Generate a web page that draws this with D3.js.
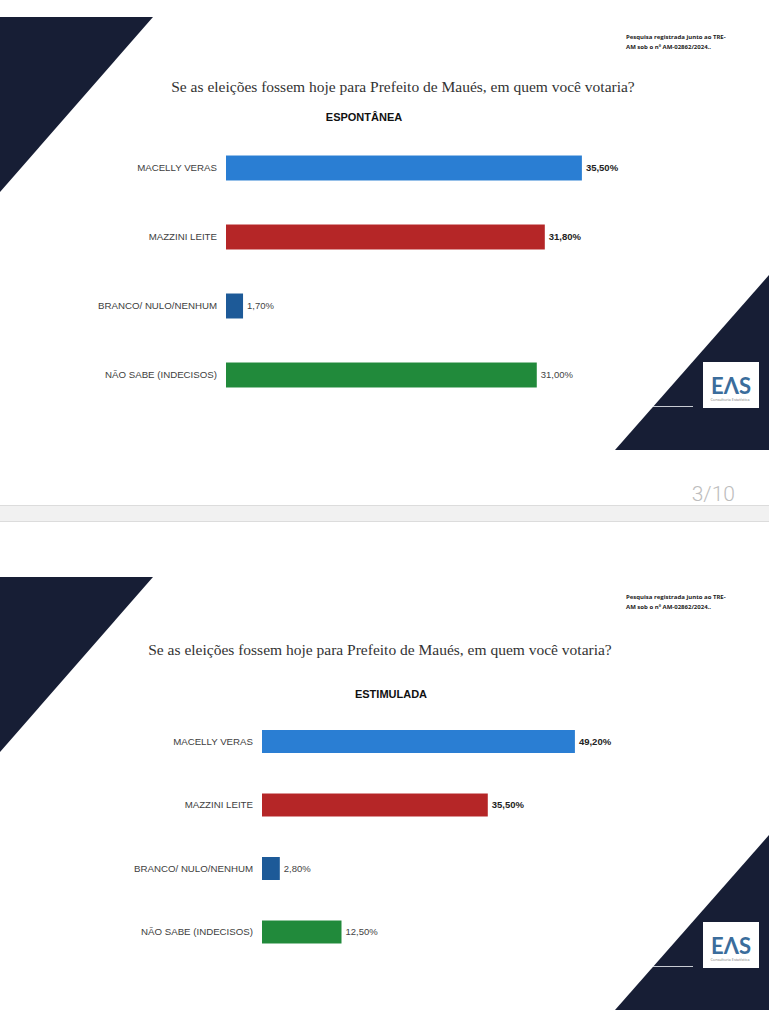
<!DOCTYPE html>
<html>
<head>
<meta charset="utf-8">
<script src="https://cdn.jsdelivr.net/npm/d3@7"></script>
<style>
  html, body { margin: 0; padding: 0; background: #fff; }
  svg { display: block; }
</style>
</head>
<body>
<svg id="chart" width="769" height="1024"></svg>
<script>
// data
const categories = ["MACELLY VERAS", "MAZZINI LEITE", "BRANCO/ NULO/NENHUM", "NÃO SABE (INDECISOS)"];
const espontanea = [35.5, 31.8, 1.7, 31.0];
const estimulada = [49.2, 35.5, 2.8, 12.5];
const barColors = ["#2a7ed3", "#b52627", "#1d5a98", "#218a3b"];
const boldValue = [true, true, false, false];
const title = "Se as eleições fossem hoje para Prefeito de Maués, em quem você votaria?";
const note = ["Pesquisa registrada junto ao TRE-", "AM sob o nº AM-02862/2024.."];
const pageNumber = "3/10";

const navy = "#171e35";
const br = d3.formatLocale({ decimal: ",", thousands: ".", grouping: [3], currency: ["R$", ""] });
const pct = v => br.format(".2f")(v) + "%";

const svg = d3.select("#chart");

const slides = [
  { values: espontanea, subtitle: "ESPONTÂNEA", oy: 0,
    titleX: 403, titleY: 92, subX: 364, subY: 121,
    xDomain: [0, 40], xRange: [226, 627], yRange: [133.5, 409.5] },
  { values: estimulada, subtitle: "ESTIMULADA", oy: 560,
    titleX: 380, titleY: 655, subX: 391, subY: 698,
    xDomain: [0, 50], xRange: [262, 580], yRange: [709.75, 963.75] }
];

// gray gap between the two pages
svg.append("rect")
  .attr("x", 0).attr("y", 505).attr("width", 769).attr("height", 16)
  .attr("fill", "#f1f1f1");
svg.append("line").attr("x1", 0).attr("x2", 769).attr("y1", 505.5).attr("y2", 505.5)
  .attr("stroke", "#dcdcdc");
svg.append("line").attr("x1", 0).attr("x2", 769).attr("y1", 521.5).attr("y2", 521.5)
  .attr("stroke", "#dcdcdc");

svg.append("text")
  .attr("x", 735).attr("y", 501)
  .attr("text-anchor", "end")
  .attr("font-family", "Roboto")
  .attr("font-weight", 300)
  .attr("font-size", 21)
  .attr("fill", "#bdbdbd")
  .text(pageNumber);

slides.forEach(s => {
  const g = svg.append("g");
  const oy = s.oy;

  // decoration
  g.append("path")
    .attr("d", `M0,${17 + oy}L153,${17 + oy}L0,${192 + oy}Z`)
    .attr("fill", navy);
  g.append("path")
    .attr("d", `M769,${275 + oy}L769,${450 + oy}L615,${450 + oy}Z`)
    .attr("fill", navy);
  g.append("line")
    .attr("x1", 653).attr("x2", 693).attr("y1", 406.5 + oy).attr("y2", 406.5 + oy)
    .attr("stroke", "#c8ccd4").attr("stroke-width", 1);
  g.append("rect")
    .attr("x", 703).attr("y", 362 + oy).attr("width", 56).attr("height", 46)
    .attr("fill", "#fff");
  g.append("text")
    .attr("x", 731).attr("y", 394 + oy)
    .attr("text-anchor", "middle")
    .attr("font-family", "Lato").attr("font-weight", 700).attr("font-size", 22)
    .attr("fill", "#3b6d9c")
    .text("EΛS");
  g.append("text")
    .attr("x", 730).attr("y", 401 + oy)
    .attr("text-anchor", "middle")
    .attr("font-family", "Open Sans").attr("font-size", 3.8)
    .attr("fill", "#777")
    .text("Consultoria Estatística");

  g.selectAll(".note")
    .data(note)
    .enter()
    .append("text")
    .attr("x", 626)
    .attr("y", (d, i) => 39 + oy + i * 10)
    .attr("font-family", "Open Sans").attr("font-weight", 700).attr("font-size", 6)
    .attr("fill", "#222")
    .text(d => d);

  g.append("text")
    .attr("x", s.titleX).attr("y", s.titleY)
    .attr("text-anchor", "middle")
    .attr("font-family", "Liberation Serif").attr("font-size", 15.5)
    .attr("fill", "#333")
    .text(title);

  g.append("text")
    .attr("x", s.subX).attr("y", s.subY)
    .attr("text-anchor", "middle")
    .attr("font-family", "Liberation Sans").attr("font-weight", 700).attr("font-size", 11)
    .attr("fill", "#111")
    .text(s.subtitle);

  // bars
  const x = d3.scaleLinear().domain(s.xDomain).range(s.xRange);
  const y = d3.scaleBand().domain(categories).range(s.yRange)
    .paddingInner(0.638).paddingOuter(0.319);

  const rows = g.selectAll(".row")
    .data(categories.map((c, i) => ({ c: c, v: s.values[i], i: i })))
    .enter()
    .append("g")
    .attr("class", "row");

  rows.append("rect")
    .attr("x", x(0))
    .attr("y", d => y(d.c))
    .attr("width", d => x(d.v) - x(0))
    .attr("height", y.bandwidth())
    .attr("fill", d => barColors[d.i]);

  rows.append("text")
    .attr("x", x(0) - 9)
    .attr("y", d => y(d.c) + y.bandwidth() / 2)
    .attr("dy", "0.35em")
    .attr("text-anchor", "end")
    .attr("font-family", "Liberation Sans").attr("font-size", 9.7)
    .attr("fill", "#404040")
    .text(d => d.c);

  rows.append("text")
    .attr("x", d => x(d.v) + 4)
    .attr("y", d => y(d.c) + y.bandwidth() / 2)
    .attr("dy", "0.35em")
    .attr("font-family", "Liberation Sans").attr("font-size", 9.5)
    .attr("font-weight", d => boldValue[d.i] ? 700 : 400)
    .attr("fill", d => boldValue[d.i] ? "#222" : "#444")
    .text(d => pct(d.v));
});
</script>
</body>
</html>
